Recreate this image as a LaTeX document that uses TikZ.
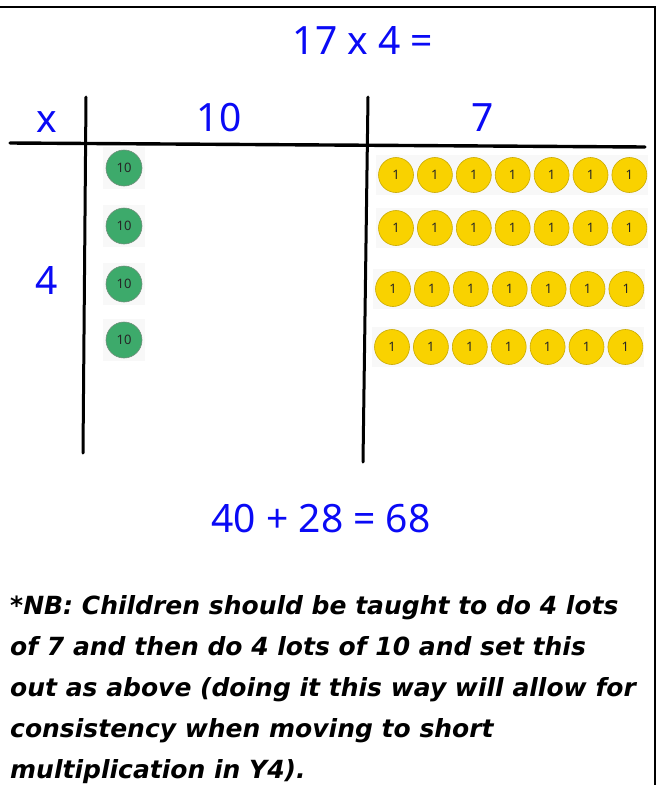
\documentclass[tikz,border=0pt]{standalone}
\usepackage{fontspec}
\setmainfont{Noto Sans}
\newfontfamily\notefont{DejaVu Sans}
\usetikzlibrary{positioning}
\definecolor{sumBlue}{HTML}{0A0AF5}
\definecolor{tenGreen}{HTML}{3DAA6B}
\definecolor{tenEdge}{HTML}{6E8F7A}
\definecolor{oneYellow}{HTML}{F9D200}
\definecolor{oneEdge}{HTML}{C9A900}
\definecolor{padGray}{HTML}{F8F8F8}
\tikzset{
  every picture/.style={text=black},
  sum text/.style={text=sumBlue, font=\fontsize{39}{44}\selectfont, inner sep=0pt},
  grid line/.style={draw=black, line width=3.4pt, line cap=round},
  frame line/.style={draw=black, line width=2pt},
  ten disc/.style={circle, fill=tenGreen, draw=tenEdge, line width=0.6pt,
    minimum size=36pt, inner sep=0pt, font=\fontsize{13}{13}\selectfont, text=black!85},
  one disc/.style={circle, fill=oneYellow, draw=oneEdge, line width=0.6pt,
    minimum size=35pt, inner sep=0pt, font=\fontsize{13}{13}\selectfont, text=black!85},
  counter pad/.style={fill=padGray, draw=none},
  note text/.style={font=\notefont\fontsize{25}{41}\selectfont\bfseries\itshape,
    align=left, anchor=north west, inner sep=0pt}
}
\begin{document}
\begin{tikzpicture}[x=1pt,y=-1pt]
  \useasboundingbox (0,0) rectangle (658,785);
  % frame
  \draw[frame line] (0,7) -- (655,7) -- (655,785);
  % question
  \node[sum text] (question) at (363,40) {17 x 4 =};
  % grid
  \coordinate (hl) at (10,143);
  \coordinate (hr) at (645,147);
  \coordinate (va) at (86,97);
  \coordinate (vb) at (83,453);
  \coordinate (wa) at (368,97);
  \coordinate (wb) at (363,462);
  \draw[grid line] (hl) -- (hr);
  \draw[grid line,line width=3pt] (va) -- (vb);
  \draw[grid line,line width=3pt] (wa) -- (wb);
  \node[sum text] (times) at (47,122) {x};
  \node[sum text] (tens) at (219,118) {10};
  \node[sum text] (ones) at (483,118) {7};
  \node[sum text] (four) at (47,280) {4};
  % tens counters
  \foreach \i/\y in {1/168,2/226,3/284,4/340} {
    \fill[counter pad] (103,\y-21) rectangle (145,\y+21);
    \node[ten disc] (ten\i) at (124,\y) {10};
  }
  % ones counters
  \foreach \r/\y/\s in {1/175/396,2/228/396,3/289/393,4/347/392} {
    \fill[counter pad] (\s-20,\y-20) rectangle (\s+252,\y+20);
    \foreach \c in {1,...,7} {
      \node[one disc] (one\r\c) at ({\s+(\c-1)*38.9},\y) {1};
    }
  }
  % answer
  \node[sum text] (answer) at (321,519) {40 + 28 = 68};
  % note
  \node[note text] (note) at (10,595) {*NB: Children should be taught to do 4 lots\\
    of 7 and then do 4 lots of 10 and set this\\
    out as above (doing it this way will allow for\\
    consistency when moving to short\\
    multiplication in Y4).};
\end{tikzpicture}
\end{document}
